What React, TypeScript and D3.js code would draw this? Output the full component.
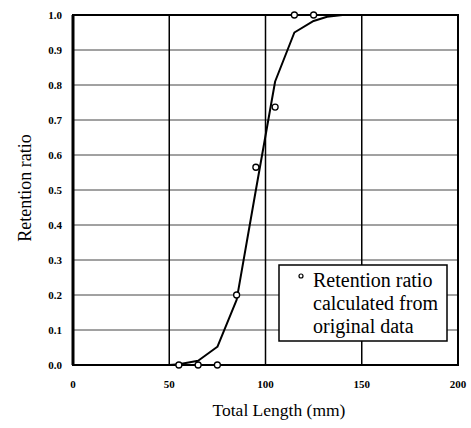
import React from "react";
import * as d3 from "d3";

const obsLength = [55, 65, 75, 85, 95, 105, 115, 125];
const obsRatio = [0.0, 0.0, 0.0, 0.2, 0.565, 0.737, 1.0, 1.0];

const fitLength = [50, 55, 65, 75, 85, 95, 105, 115, 125, 132, 140, 150];
const fitRatio = [0.0, 0.002, 0.012, 0.052, 0.186, 0.5, 0.81, 0.95, 0.983, 0.995, 1.0, 1.0];

const xTicks = [0, 50, 100, 150, 200];
const yTicks = [0, 0.1, 0.2, 0.3, 0.4, 0.5, 0.6, 0.7, 0.8, 0.9, 1.0];
const legendLines = ["Retention ratio", "calculated from", "original data"];

const W = 471, H = 428;
const L = 73, R = 458, T = 15, B = 365;
const serif = "Liberation Serif, DejaVu Serif, serif";

export default function App() {
  const x = d3.scaleLinear().domain([0, 200]).range([L, R]);
  const y = d3.scaleLinear().domain([0, 1]).range([B, T]);
  const line = d3.line<number>().x((d, i) => x(fitLength[i])).y((d) => y(d));
  const tf = { fontFamily: serif };
  return (
    <svg width={W} height={H} style={{ position: "absolute", left: 0, top: 0, background: "#fff" }}>
      {yTicks.filter((t) => t > 0 && t < 1).map((t) => (
        <line key={"h" + t} x1={L} x2={R} y1={y(t)} y2={y(t)} stroke="#444" strokeWidth={1} />
      ))}
      {xTicks.filter((t) => t > 0 && t < 200).map((t) => (
        <line key={"v" + t} x1={x(t)} x2={x(t)} y1={T} y2={B} stroke="#000" strokeWidth={1.5} />
      ))}
      <rect x={L} y={T} width={R - L} height={B - T} fill="none" stroke="#000" strokeWidth={2} />
      <line x1={L} x2={L} y1={T} y2={B} stroke="#000" strokeWidth={3} />
      <path d={line(fitRatio) || ""} fill="none" stroke="#000" strokeWidth={2} strokeLinejoin="round" />
      {obsLength.map((v, i) => (
        <circle key={"c" + i} cx={x(v)} cy={y(obsRatio[i])} r={3} fill="#fff" stroke="#000" strokeWidth={1.3} />
      ))}
      {yTicks.map((t) => (
        <text key={"yt" + t} x={L - 11} y={y(t) + 4} textAnchor="end" style={tf} fontSize={11} fontWeight="bold">
          {t.toFixed(1)}
        </text>
      ))}
      {xTicks.map((t) => (
        <text key={"xt" + t} x={x(t)} y={388} textAnchor="middle" style={tf} fontSize={11} fontWeight="bold">
          {t}
        </text>
      ))}
      <text x={279} y={416} textAnchor="middle" style={tf} fontSize={17.5}>Total Length (mm)</text>
      <text transform={`translate(31,188) rotate(-90)`} textAnchor="middle" style={tf} fontSize={18}>
        Retention ratio
      </text>
      <rect x={279} y={265} width={168} height={76} fill="#fff" stroke="#000" strokeWidth={1.5} />
      <circle cx={301} cy={276} r={2} fill="#fff" stroke="#000" strokeWidth={1.2} />
      {legendLines.map((s, i) => (
        <text key={"lg" + i} x={313} y={287 + i * 23} style={tf} fontSize={20}>{s}</text>
      ))}
    </svg>
  );
}
